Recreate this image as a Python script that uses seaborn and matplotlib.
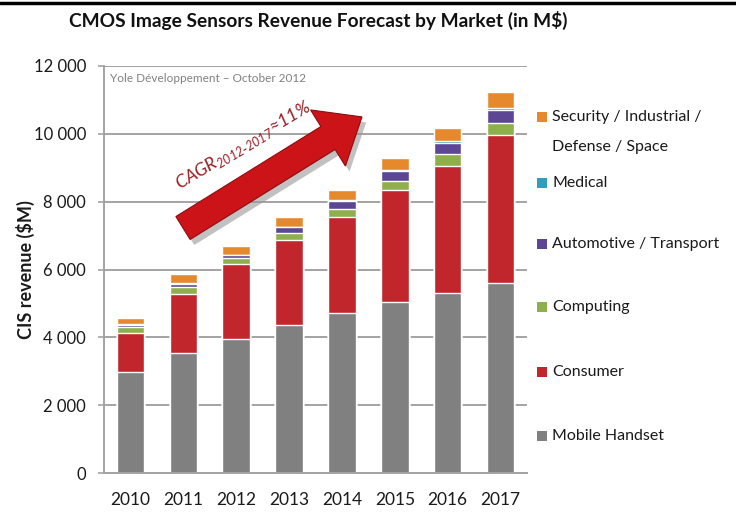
import matplotlib
matplotlib.use("Agg")
import matplotlib.pyplot as plt
import matplotlib.patches as mpatches
import matplotlib.patheffects as pe
from matplotlib.ticker import FuncFormatter, MultipleLocator
import pandas as pd
import seaborn as sns

# CIS revenue by market, M$ (stacked bottom -> top)
years = ["2010", "2011", "2012", "2013", "2014", "2015", "2016", "2017"]
mobile_handset = [2980, 3530, 3950, 4350, 4710, 5050, 5320, 5600]
consumer = [1140, 1750, 2200, 2520, 2850, 3300, 3740, 4370]
computing = [170, 210, 180, 200, 210, 250, 340, 340]
automotive = [70, 80, 90, 170, 240, 300, 340, 400]
medical = [20, 20, 20, 25, 30, 30, 40, 50]
security = [180, 270, 240, 295, 290, 350, 400, 460]

segments = ["Mobile Handset", "Consumer", "Computing",
            "Automotive / Transport", "Medical",
            "Security / Industrial /\nDefense / Space"]
series = [mobile_handset, consumer, computing, automotive, medical, security]
colors = ["#808080", "#c0262b", "#8db04d", "#5d4795", "#2f9fbf", "#e6892d"]

title = "CMOS Image Sensors Revenue Forecast by Market (in M$)"
ylabel = "CIS revenue ($M)"
source = "Yole Développement \u2013 October 2012"
cagr = r"CAGR$_{\mathregular{2012\text{-}2017}}$" + "\u224811%"

sns.set_theme(style="white")
plt.rcParams["font.family"] = ["Lato", "DejaVu Sans"]

rows = []
for name, vals in zip(segments, series):
    for y, v in zip(years, vals):
        rows.append({"year": y, "segment": name, "value": v})
df = pd.DataFrame(rows)
df["segment"] = pd.Categorical(df["segment"], categories=segments, ordered=True)
df = df.sort_values(["year", "segment"])
df["top"] = df.groupby("year")["value"].cumsum()

W, H = 736, 516
fig = plt.figure(figsize=(W / 100, H / 100), dpi=100)
fig.patch.set_facecolor("white")
ax = fig.add_axes([104 / W, 1 - 473 / H, (527 - 104) / W, (473 - 66) / H])

# Overlapping cumulative bars, drawn from the top layer downwards
for name, col in reversed(list(zip(segments, colors))):
    sub = df[df["segment"] == name]
    sns.barplot(data=sub, x="year", y="top", order=years, color=col,
                saturation=1, width=0.52, errorbar=None, ax=ax, zorder=2)

ax.set_xlim(-0.5, 7.5)
ax.set_ylim(0, 12000)
ax.yaxis.set_major_locator(MultipleLocator(2000))
ax.yaxis.set_major_formatter(FuncFormatter(lambda v, p: f"{v:,.0f}".replace(",", " ")))
ax.set_xlabel("")
ax.set_ylabel(ylabel, fontsize=13, fontweight="bold", color="#1a1a1a")
ax.yaxis.set_label_coords(-0.162, 0.5)
ax.yaxis.grid(True, color="#a3a3a3", lw=1.4)
ax.set_axisbelow(True)
for s in ("top", "right"):
    ax.spines[s].set_visible(False)
for s in ("left", "bottom"):
    ax.spines[s].set_color("#a3a3a3")
    ax.spines[s].set_linewidth(1.4)
ax.tick_params(axis="y", which="major", left=True, length=4, width=1.2,
               color="#a3a3a3", labelsize=12, labelcolor="#1a1a1a", pad=9)
ax.tick_params(axis="x", bottom=False, labelsize=12.5, labelcolor="#1a1a1a", pad=8)

# Title and top rule
fig.text(318 / W, 1 - 20 / H, title, ha="center", va="center",
         fontsize=13.8, fontweight="bold", color="#111111")
fig.add_artist(plt.Line2D([0, 1], [1 - 3 / H, 1 - 3 / H], color="black", lw=2.5))

# Source note
fig.text(110 / W, 1 - 78 / H, source, ha="left", va="center", fontsize=8.5, color="#808080")

# Growth arrow
arrow = mpatches.FancyArrow(183 / 100, (H - 228) / 100, 1.45, 0.9,
                            width=0.27, head_width=0.66, head_length=0.4,
                            length_includes_head=False, transform=fig.dpi_scale_trans,
                            facecolor="#cc1418", edgecolor="#8e0c10", lw=0.8,
                            path_effects=[pe.SimplePatchShadow(offset=(3, -4), shadow_rgbFace="#999999", alpha=0.6),
                                          pe.Normal()])
fig.add_artist(arrow)
fig.text(243 / W, 1 - 145 / H, cagr, ha="center", va="center", rotation=31,
         rotation_mode="anchor", fontsize=13, style="italic", color="#9c1c22")

# Legend, top entry first
legend_y = [117, 183, 244, 307, 372, 436]
for name, col, yy in zip(reversed(segments), reversed(colors), legend_y):
    fig.add_artist(mpatches.Rectangle((537 / W, 1 - (yy + 5) / H), 10 / W, 10 / H,
                                      transform=fig.transFigure, facecolor=col, edgecolor="none"))
    for k, line in enumerate(name.split("\n")):
        fig.text(552 / W, 1 - (yy + 30 * k) / H, line, ha="left", va="center",
                 fontsize=11.5, color="#1a1a1a")

fig.savefig("out.png", dpi=100, facecolor="white")
